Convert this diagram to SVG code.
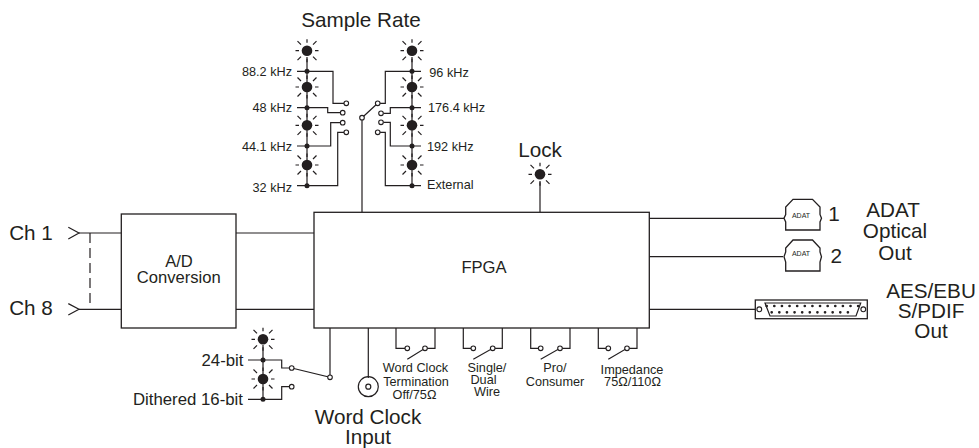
<svg xmlns="http://www.w3.org/2000/svg" width="979" height="448" viewBox="0 0 979 448">
<defs>
<style>
text{font-family:"Liberation Sans",Arial,sans-serif;fill:#231f20}
.w{fill:none;stroke:#231f20;stroke-width:1.2}
.box{fill:#fff;stroke:#231f20;stroke-width:1.3}
.c{fill:#fff;stroke:#231f20;stroke-width:1.1}
.h{font-size:20.700px;text-anchor:middle}
.m{font-size:16.600px;text-anchor:middle}
.s{font-size:12.700px}
.e{text-anchor:end}
.t{font-size:12.700px;text-anchor:middle}
.b{font-size:16.800px;text-anchor:end}
.a{font-size:7px;text-anchor:middle}
.p{fill:#231f20;stroke:none}
</style>
<g id="led">
<circle r="5.300" class="p"/>
<path class="w" d="M0-11.500V-8M0 8V11.500M-11.500 0H-8M8 0H11.500M-9.500-9.500L-6-6M9.500-9.500L6-6M-9.500 9.500L-6 6M9.500 9.500L6 6"/>
</g>
</defs>
<g id="connectors">
<path class="w" d="M79 233H121M79 309.300H121M236 233H314M236 309.300H314"/>
<path class="w" d="M68.300 227.300L79 233L68.300 239M68.300 303.600L79 309.300L68.300 315"/>
<path class="w" stroke-dasharray="10 5" d="M90 233V305"/>
<path class="w" d="M307 57V186M412 57V186M263 345V400M540 181V212"/>
<path class="w" d="M297 71.300H333V103.300H344M297 107.700H327.700V112.700H340M297 146H330.700V122.700H340M297 185.700H337.700V132.300H344"/>
<path class="w" d="M421 71.300H385.300V103.300H375.500M421 107.700H390.300V113.300H383.500M421 146H390.300V122.300H383.500M421 185.700H385.300V132.300H380"/>
<path class="w" d="M362 117.700V212M362 117.700L377.700 103.300"/>
<path class="w" d="M248 360H281.700V368H291.700M248 399.300H281.700V386.700H289"/>
<path class="w" d="M330 328V377.300L291.700 368M368.300 328V378"/>
<path class="w" d="M396 328V348.300H407.300M435 328V348.300H425L407.300 359.300M463.300 328V348.300H473.300M502.300 328V348.300H492.700L473.300 359.300M530.700 328V348.300H540.700M570 328V348.300H560L540.700 359.300M598.300 328V348.300H608.300M637 328V348.300H627L608.300 359.300"/>
<path class="w" d="M649 218.300H784M649 256.700H783M649 309.300H755.300"/>
</g>
<g id="switch-contacts">
<circle class="c" cx="346.300" cy="103.300" r="2.300"/><circle class="c" cx="342.700" cy="112.700" r="2.300"/><circle class="c" cx="342.700" cy="122.700" r="2.300"/><circle class="c" cx="346.300" cy="132.300" r="2.300"/>
<circle class="c" cx="362" cy="117.700" r="2.300"/><circle class="c" cx="377.700" cy="103.300" r="2.300"/><circle class="c" cx="381" cy="113.300" r="2.300"/><circle class="c" cx="381" cy="122.300" r="2.300"/><circle class="c" cx="377.700" cy="132.300" r="2.300"/>
<circle class="c" cx="291.700" cy="368" r="2.300"/><circle class="c" cx="291.700" cy="386.700" r="2.300"/><circle class="c" cx="330" cy="377.300" r="2.300"/>
<circle class="c" cx="407.300" cy="348.300" r="2.300"/><circle class="c" cx="425" cy="348.300" r="2.300"/><circle class="c" cx="473.300" cy="348.300" r="2.300"/><circle class="c" cx="492.700" cy="348.300" r="2.300"/><circle class="c" cx="540.700" cy="348.300" r="2.300"/><circle class="c" cx="560" cy="348.300" r="2.300"/><circle class="c" cx="608.300" cy="348.300" r="2.300"/><circle class="c" cx="627" cy="348.300" r="2.300"/>
</g>
<g id="ad-conversion"><rect class="box" x="121.300" y="214" width="114.700" height="114"/><text class="m"><tspan x="179" y="267.300">A/D</tspan><tspan x="178.700" y="283.300">Conversion</tspan></text></g>
<g id="fpga"><rect class="box" x="314" y="212.300" width="335.300" height="115.700"/><text class="m" x="484" y="273.300">FPGA</text></g>
<g id="inputs"><text class="h" x="31" y="240">Ch 1</text><text class="h" x="31" y="315">Ch 8</text></g>
<g id="sample-rate">
<text class="h" x="361" y="27.300">Sample Rate</text>
<use href="#led" x="307" y="50.700"/><use href="#led" x="307" y="87"/><use href="#led" x="307" y="125.300"/><use href="#led" x="307" y="165"/>
<use href="#led" x="412" y="50.700"/><use href="#led" x="412" y="87"/><use href="#led" x="412" y="125.300"/><use href="#led" x="412" y="165"/>
<g class="p"><circle cx="307" cy="71.300" r="2.500"/><circle cx="307" cy="107.700" r="2.500"/><circle cx="307" cy="146" r="2.500"/><circle cx="307" cy="185.700" r="2.500"/><circle cx="412" cy="71.300" r="2.500"/><circle cx="412" cy="107.700" r="2.500"/><circle cx="412" cy="146" r="2.500"/><circle cx="412" cy="185.700" r="2.500"/></g>
<text class="s e" x="292" y="75.700">88.2 kHz</text><text class="s e" x="292" y="112.300">48 kHz</text><text class="s e" x="292" y="150.700">44.1 kHz</text><text class="s e" x="292" y="191.500">32 kHz</text>
<text class="s" x="429.300" y="76.700">96 kHz</text><text class="s" x="428" y="112.300">176.4 kHz</text><text class="s" x="427" y="150.700">192 kHz</text><text class="s" x="427" y="189">External</text>
</g>
<g id="lock"><text class="h" x="540" y="156.500">Lock</text><use href="#led" x="540" y="174.300"/></g>
<g id="bit-depth">
<use href="#led" x="263" y="339.300"/><use href="#led" x="263" y="379"/>
<circle class="p" cx="263" cy="360" r="2.500"/><circle class="p" cx="263" cy="399.300" r="2.500"/>
<text class="b" x="243.500" y="365.700">24-bit</text><text class="b" x="243" y="405">Dithered 16-bit</text>
</g>
<g id="word-clock-input"><circle class="w" cx="368.300" cy="386.700" r="10"/><circle class="w" cx="368.300" cy="386.700" r="2.500"/><text class="h"><tspan x="368" y="424">Word Clock</tspan><tspan x="368" y="444">Input</tspan></text></g>
<g id="sw-termination"><text class="t"><tspan x="415.500" y="372.300">Word Clock</tspan><tspan x="416" y="385.700">Termination</tspan><tspan x="414.500" y="399.300">Off/75Ω</tspan></text></g>
<g id="sw-wire"><text class="t"><tspan x="487" y="372.300">Single/</tspan><tspan x="483.500" y="384">Dual</tspan><tspan x="487" y="395.700">Wire</tspan></text></g>
<g id="sw-consumer"><text class="t"><tspan x="555" y="372.300">Pro/</tspan><tspan x="555" y="386">Consumer</tspan></text></g>
<g id="sw-impedance"><text class="t"><tspan x="632" y="374">Impedance</tspan><tspan x="632.500" y="385.700">75Ω/110Ω</tspan></text></g>
<g id="adat-1"><path class="box" d="M785.700 230V222L784 218.300L785.700 214.500V207L793 199.300H812.500L820 207V214.500L821.500 218.300L820 222V230Z"/><text class="a" x="801" y="218">ADAT</text><text class="h" x="834" y="220.700">1</text></g>
<g id="adat-2"><path class="box" d="M785.700 271V262L784 256.700L785.700 252V248L793 240H812.500L820 248V252L821.500 256.700L820 262V271Z"/><text class="a" x="801" y="255.500">ADAT</text><text class="h" x="836.300" y="263.300">2</text></g>
<g id="adat-label"><text class="h"><tspan x="893" y="216.700">ADAT</tspan><tspan x="895" y="238">Optical</tspan><tspan x="895" y="260">Out</tspan></text></g>
<g id="dsub"><rect class="box" x="755.300" y="300" width="112" height="18.700"/><path class="w" d="M765 303H860.700L856 316H770Z"/><circle class="c" cx="759.300" cy="309.300" r="2.400"/><circle class="c" cx="863.300" cy="309.300" r="2.400"/>
<path d="M766.700 306H858.500M771.700 312.300H853.500" fill="none" stroke="#231f20" stroke-width="2.700" stroke-linecap="round" stroke-dasharray="0 7.620"/></g>
<g id="aes-label"><text class="h"><tspan x="931" y="298">AES/EBU</tspan><tspan x="931" y="318.300">S/PDIF</tspan><tspan x="931" y="338">Out</tspan></text></g>
</svg>
